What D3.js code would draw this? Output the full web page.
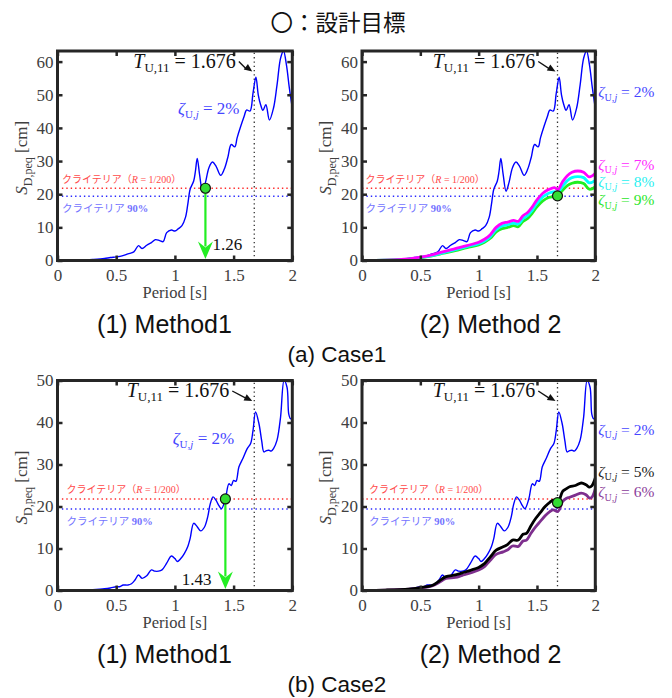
<!DOCTYPE html>
<html lang="ja">
<head>
<meta charset="utf-8">
<title>設計目標</title>
<script src="https://cdnjs.cloudflare.com/ajax/libs/d3/7.8.5/d3.min.js"></script>
<style>
  body { margin: 0; background: #fff; }
  .tick text { font-family: "Liberation Serif", "Times New Roman", serif; font-size: 17px; fill: #404040; }
  .tick line { stroke: #262626; stroke-width: 2.5; }
  .domain { display: none; }
</style>
</head>
<body>
<div id="chart"></div>
<script>
// ---- data ----
var xTicks = [0, 0.5, 1, 1.5, 2];
var yTicksCase1 = [0, 10, 20, 30, 40, 50, 60];
var yTicksCase2 = [0, 10, 20, 30, 40, 50];
var yMaxCase1 = 63.2;
var yMaxCase2 = 50;

var criterionR = 21.8;   // クライテリア (R = 1/200)
var criterion90 = 19.4;  // クライテリア 90%
var tU11 = 1.676;

// case1, damping 2%
var periodC1Blue = [0, 0.1, 0.2, 0.3, 0.4, 0.45, 0.5, 0.55, 0.6, 0.65, 0.69, 0.72, 0.76, 0.8, 0.835, 0.87, 0.9, 0.93, 0.97, 1.0,
  1.03, 1.06, 1.09, 1.11, 1.13, 1.16, 1.175, 1.19, 1.21, 1.235, 1.26, 1.29, 1.32, 1.35, 1.39, 1.42, 1.45, 1.48, 1.51, 1.53,
  1.56, 1.59, 1.61, 1.64, 1.665, 1.69, 1.71, 1.73, 1.75, 1.775, 1.805, 1.84, 1.87, 1.9, 1.925, 1.95, 1.975, 2.0];
var sdC1Blue = [0, 0.02, 0.1, 0.3, 0.6, 0.9, 1.1, 1.4, 2.0, 2.6, 4.5, 3.6, 4.6, 5.4, 6.3, 6.0, 5.7, 8.4, 9.2, 8.9,
  9.6, 10.5, 13.0, 17.0, 21.5, 24.0, 27.0, 30.8, 26.0, 20.9, 23.5, 28.0, 29.7, 28.5, 25.7, 27.5, 31.0, 35.0, 34.3, 37.0,
  40.4, 43.5, 45.4, 45.1, 50.4, 55.3, 50.0, 47.0, 45.3, 47.0, 42.4, 46.0, 53.0, 61.0, 63.2, 59.0, 52.0, 46.0];

// case1, damping 7/8/9%
var periodC1Damped = [0, 0.2, 0.4, 0.5, 0.6, 0.7, 0.8, 0.9, 1.0, 1.05, 1.1, 1.15, 1.2, 1.25, 1.3, 1.34, 1.38, 1.42, 1.46, 1.5,
  1.55, 1.6, 1.65, 1.68, 1.72, 1.76, 1.8, 1.85, 1.9, 1.95, 2.0];
var sdC1h7 = [0, 0.1, 0.5, 1.0, 1.7, 2.7, 3.6, 4.5, 5.5, 6.4, 7.8, 10.0, 11.2, 11.6, 12.1, 11.8, 13.5, 14.5, 16.2, 18.3,
  20.3, 21.4, 22.0, 21.4, 23.8, 25.6, 26.6, 27.0, 26.6, 25.2, 26.3];
var sdC1h8 = [0, 0.1, 0.4, 0.9, 1.5, 2.4, 3.3, 4.2, 5.1, 5.9, 7.2, 9.3, 10.4, 10.8, 11.3, 11.0, 12.6, 13.6, 15.2, 17.3,
  19.2, 20.3, 20.8, 20.6, 22.4, 24.1, 25.0, 25.3, 25.0, 23.4, 24.2];
var sdC1h9 = [0, 0.1, 0.4, 0.8, 1.4, 2.2, 3.0, 3.9, 4.7, 5.5, 6.7, 8.6, 9.6, 10.0, 10.5, 10.2, 11.8, 12.7, 14.3, 16.2,
  18.0, 19.0, 19.3, 19.6, 21.2, 22.6, 23.3, 23.6, 23.2, 21.5, 22.2];

// case2, damping 2%
var periodC2Blue = [0, 0.1, 0.2, 0.3, 0.4, 0.45, 0.5, 0.53, 0.56, 0.6, 0.63, 0.66, 0.69, 0.72, 0.76, 0.8, 0.83, 0.86, 0.89, 0.93,
  0.97, 1.0, 1.02, 1.05, 1.08, 1.11, 1.13, 1.16, 1.19, 1.22, 1.25, 1.28, 1.3, 1.325, 1.35, 1.375, 1.397, 1.43, 1.46, 1.48,
  1.5, 1.52, 1.545, 1.58, 1.616, 1.645, 1.665, 1.687, 1.716, 1.74, 1.758, 1.78, 1.8, 1.82, 1.84, 1.87, 1.9, 1.93, 1.955, 1.97,
  1.985, 2.0];
var sdC2Blue = [0, 0.02, 0.08, 0.2, 0.4, 0.6, 0.9, 0.9, 1.3, 1.3, 1.6, 2.5, 3.7, 2.9, 3.5, 4.9, 4.6, 4.6, 4.9, 6.5,
  8.2, 7.6, 6.9, 7.6, 8.8, 10.5, 12.4, 16.0, 15.2, 14.2, 15.0, 17.6, 20.5, 22.3, 21.5, 20.2, 19.5, 21.8, 25.4, 25.0,
  26.2, 26.0, 29.4, 31.5, 33.8, 35.0, 38.0, 42.5, 39.7, 35.5, 33.0, 33.3, 33.4, 33.2, 33.8, 35.8, 41.3, 50.0, 48.4, 42.0,
  40.9, 41.3];

// case2, damping 5/6%
var periodC2Damped = [0, 0.2, 0.4, 0.5, 0.6, 0.66, 0.72, 0.8, 0.86, 0.93, 1.0, 1.05, 1.1, 1.15, 1.21, 1.25, 1.29, 1.34, 1.38, 1.41,
  1.45, 1.49, 1.53, 1.57, 1.61, 1.64, 1.68, 1.72, 1.75, 1.78, 1.83, 1.88, 1.92, 1.95, 1.97, 2.0];
var sdC2h5 = [0, 0.1, 0.35, 0.7, 1.2, 2.2, 3.3, 3.7, 4.2, 4.8, 5.5, 6.4, 8.0, 9.6, 10.4, 11.0, 12.0, 12.0, 13.4, 13.6,
  15.5, 17.2, 18.6, 20.0, 21.0, 21.5, 21.1, 23.6, 24.2, 24.7, 25.0, 25.6, 25.2, 24.6, 24.9, 26.8];
var sdC2h6 = [0, 0.1, 0.3, 0.6, 1.1, 1.9, 2.9, 3.1, 3.6, 4.2, 4.9, 5.7, 7.2, 8.6, 9.2, 9.7, 10.6, 10.5, 11.8, 12.0,
  13.7, 15.2, 16.5, 17.8, 18.8, 19.2, 18.8, 21.2, 21.9, 22.2, 22.7, 23.2, 22.8, 22.0, 22.2, 24.2];

// design targets (○)
var targetC1M1 = [1.26, 21.8];
var targetC1M2 = [1.676, 19.5];
var targetC2M1 = [1.43, 21.8];
var targetC2M2 = [1.676, 20.9];

// ---- drawing ----
var W = 672, H = 698;
var serif = '"Liberation Serif", "Times New Roman", serif';
var sans = '"Liberation Sans", Arial, sans-serif';
var jp = '"Noto Sans CJK JP", sans-serif';

var svg = d3.select("#chart").append("svg")
  .attr("width", W).attr("height", H)
  .style("background", "#fff");

var line = d3.line().curve(d3.curveCatmullRom.alpha(0.5));

function zeta(sel, x, y, pct, color, size) {
  var t = sel.append("text").attr("x", x).attr("y", y)
    .attr("font-family", serif).attr("font-size", size).attr("fill", color);
  t.append("tspan").attr("font-style", "italic").text("ζ");
  t.append("tspan").attr("font-size", size * 0.65).attr("dy", 3.5).text("U,");
  t.append("tspan").attr("font-size", size * 0.65).attr("font-style", "italic").text("j");
  t.append("tspan").attr("dy", -3.5).text(" = " + pct + "%");
}

function drawPanel(p) {
  var x = d3.scaleLinear().domain([0, 2]).range([p.left, p.left + p.w]);
  var y = d3.scaleLinear().domain([0, p.yMax]).range([p.top + p.h, p.top]);
  var g = svg.append("g");

  svg.append("clipPath").attr("id", "clip" + p.id)
    .append("rect").attr("x", p.left).attr("y", p.top).attr("width", p.w).attr("height", p.h);

  // criteria lines
  g.append("line").attr("x1", x(0)).attr("x2", x(2))
    .attr("y1", y(criterionR)).attr("y2", y(criterionR))
    .attr("stroke", "#ff2a2a").attr("stroke-width", 1.4).attr("stroke-dasharray", "1.4,3");
  g.append("line").attr("x1", x(0)).attr("x2", x(2))
    .attr("y1", y(criterion90)).attr("y2", y(criterion90))
    .attr("stroke", "#2a2aff").attr("stroke-width", 1.4).attr("stroke-dasharray", "1.4,3");

  // T_U,11 line
  g.append("line").attr("x1", x(tU11)).attr("x2", x(tU11))
    .attr("y1", y(0)).attr("y2", y(p.yMax))
    .attr("stroke", "#333").attr("stroke-width", 1.3).attr("stroke-dasharray", "1.3,3");

  // series
  p.series.forEach(function(s) {
    g.append("path")
      .datum(d3.zip(s.period, s.sd))
      .attr("clip-path", "url(#clip" + p.id + ")")
      .attr("fill", "none")
      .attr("stroke", s.color)
      .attr("stroke-width", s.width)
      .attr("stroke-linejoin", "round")
      .attr("d", line.x(function(d) { return x(d[0]); }).y(function(d) { return y(d[1]); }));
  });

  // criteria labels
  var rl = g.append("text").attr("x", p.left + p.critDx).attr("y", y(criterionR) - 5.5)
    .attr("font-size", 10).attr("fill", "#ff4a4a").attr("font-family", jp);
  rl.append("tspan").text("クライテリア（");
  rl.append("tspan").attr("font-family", serif).attr("font-style", "italic").text("R");
  rl.append("tspan").attr("font-family", serif).text(" = 1/200");
  rl.append("tspan").text("）");
  var bl = g.append("text").attr("x", p.left + p.critDx).attr("y", y(criterion90) + 16)
    .attr("font-size", 10.5).attr("fill", "#7373ff").attr("font-family", jp);
  bl.append("tspan").text("クライテリア ");
  bl.append("tspan").attr("font-family", serif).attr("font-weight", "bold").text("90%");

  // axes
  g.append("g").attr("transform", "translate(0," + (p.top + p.h) + ")")
    .call(d3.axisBottom(x).tickValues(xTicks).tickFormat(String).tickSizeInner(-5).tickSizeOuter(0).tickPadding(8));
  g.append("g").attr("transform", "translate(0," + p.top + ")")
    .call(d3.axisTop(x).tickValues(xTicks).tickFormat("").tickSizeInner(-5).tickSizeOuter(0));
  g.append("g").attr("transform", "translate(" + p.left + ",0)")
    .call(d3.axisLeft(y).tickValues(p.yTicks).tickFormat(String).tickSizeInner(-5).tickSizeOuter(0).tickPadding(4));
  g.append("g").attr("transform", "translate(" + (p.left + p.w) + ",0)")
    .call(d3.axisRight(y).tickValues(p.yTicks).tickFormat("").tickSizeInner(-5).tickSizeOuter(0));

  g.append("rect").attr("x", p.left).attr("y", p.top).attr("width", p.w).attr("height", p.h)
    .attr("fill", "none").attr("stroke", "#262626").attr("stroke-width", 3);

  // axis titles
  g.append("text").attr("x", p.left + p.w / 2).attr("y", p.top + p.h + 37.5)
    .attr("text-anchor", "middle").attr("font-family", serif).attr("font-size", 16.5)
    .attr("fill", "#404040").text("Period [s]");
  var yl = g.append("text")
    .attr("transform", "translate(" + (p.left - 31) + "," + (p.top + p.h / 2 + 2) + ") rotate(-90)")
    .attr("text-anchor", "middle").attr("font-family", serif).attr("font-size", 17).attr("fill", "#404040");
  yl.append("tspan").attr("font-style", "italic").text("S");
  yl.append("tspan").attr("font-size", 12).attr("dy", 5).text("D,peq");
  yl.append("tspan").attr("dy", -5).text(" [cm]");

  // T_U,11 annotation
  var tl = g.append("text").attr("x", p.tLabelX).attr("y", p.top + 16.5)
    .attr("font-family", serif).attr("font-size", 20).attr("fill", "#111");
  tl.append("tspan").attr("font-style", "italic").text("T");
  tl.append("tspan").attr("font-size", 13).attr("dy", 4).text("U,11");
  tl.append("tspan").attr("dy", -4).text(" = 1.676");
  var tEnd = p.tLabelX + tl.node().getComputedTextLength();
  var ax0 = tEnd + 3, ay0 = p.top + 10.5, ax1 = x(tU11) - 2, ay1 = p.top + 20.5;
  g.append("line").attr("x1", ax0).attr("y1", ay0).attr("x2", ax1 - 6).attr("y2", ay1 - 2.6)
    .attr("stroke", "#111").attr("stroke-width", 1.4);
  var ang = Math.atan2(ay1 - ay0, ax1 - ax0);
  var hl = 8, hw = 3.5;
  var bx = ax1 - hl * Math.cos(ang), by = ay1 - hl * Math.sin(ang);
  g.append("path")
    .attr("d", "M" + ax1 + "," + ay1 +
      "L" + (bx + hw * Math.sin(ang)) + "," + (by - hw * Math.cos(ang)) +
      "L" + (bx - hw * Math.sin(ang)) + "," + (by + hw * Math.cos(ang)) + "Z")
    .attr("fill", "#111");

  // damping labels
  p.labels.forEach(function(l) { zeta(g, l.x, l.y, l.pct, l.color, p.labelSize); });

  // target arrow (method 1)
  if (p.arrow) {
    var gx = x(p.target[0]), gy = y(p.target[1]), base = y(0);
    g.append("line").attr("x1", gx).attr("x2", gx).attr("y1", gy).attr("y2", base - 14)
      .attr("stroke", "#22ee22").attr("stroke-width", 2.2);
    g.append("path")
      .attr("d", "M" + gx + "," + (base - 1.5) + "L" + (gx - 7.5) + "," + (base - 19) +
        "L" + gx + "," + (base - 13) + "L" + (gx + 7.5) + "," + (base - 19) + "Z")
      .attr("fill", "#22ee22");
    g.append("text").attr("x", gx + p.arrow.dx).attr("y", base + p.arrow.dy)
      .attr("text-anchor", p.arrow.anchor).attr("font-family", serif).attr("font-size", 17)
      .attr("fill", "#111").text(p.target[0].toFixed(2));
  }

  // target circle
  g.append("circle").attr("cx", x(p.target[0])).attr("cy", y(p.target[1])).attr("r", 5)
    .attr("fill", "#33dd33").attr("stroke", "#111").attr("stroke-width", 1.2);
}

var blue = "#0000ff";

drawPanel({
  id: 1, left: 57.5, top: 51, w: 234.8, h: 209.5, yMax: yMaxCase1, yTicks: yTicksCase1,
  critDx: 4.5, tLabelX: 133.3, labelSize: 17,
  series: [{ period: periodC1Blue, sd: sdC1Blue, color: blue, width: 1.4 }],
  labels: [{ x: 178, y: 114, pct: 2, color: "#4646ff" }],
  target: targetC1M1, arrow: { dx: 7, dy: -10.5, anchor: "start" }
});
drawPanel({
  id: 2, left: 362, top: 51, w: 233.3, h: 209.5, yMax: yMaxCase1, yTicks: yTicksCase1,
  critDx: 3.5, tLabelX: 432.7, labelSize: 15.5,
  series: [
    { period: periodC1Blue, sd: sdC1Blue, color: blue, width: 1.4 },
    { period: periodC1Damped, sd: sdC1h9, color: "#22ee22", width: 2.8 },
    { period: periodC1Damped, sd: sdC1h8, color: "#00ffff", width: 2.8 },
    { period: periodC1Damped, sd: sdC1h7, color: "#ff00ff", width: 2.8 }
  ],
  labels: [
    { x: 598.3, y: 97, pct: 2, color: "#4646ff" },
    { x: 598.3, y: 169.5, pct: 7, color: "#ff2aff" },
    { x: 598.3, y: 186.5, pct: 8, color: "#2af0f0" },
    { x: 598.3, y: 205, pct: 9, color: "#2ae62a" }
  ],
  target: targetC1M2, arrow: null
});
drawPanel({
  id: 3, left: 57.5, top: 380.5, w: 234.8, h: 210, yMax: yMaxCase2, yTicks: yTicksCase2,
  critDx: 9, tLabelX: 126.7, labelSize: 17,
  series: [{ period: periodC2Blue, sd: sdC2Blue, color: blue, width: 1.4 }],
  labels: [{ x: 172.7, y: 444, pct: 2, color: "#4646ff" }],
  target: targetC2M1, arrow: { dx: -14, dy: -5.5, anchor: "end" }
});
drawPanel({
  id: 4, left: 362, top: 380.5, w: 233.3, h: 210, yMax: yMaxCase2, yTicks: yTicksCase2,
  critDx: 7, tLabelX: 432.7, labelSize: 15.5,
  series: [
    { period: periodC2Blue, sd: sdC2Blue, color: blue, width: 1.4 },
    { period: periodC2Damped, sd: sdC2h6, color: "#7e2f8e", width: 2.8 },
    { period: periodC2Damped, sd: sdC2h5, color: "#000000", width: 2.8 }
  ],
  labels: [
    { x: 598.3, y: 434.5, pct: 2, color: "#4646ff" },
    { x: 598.3, y: 476.5, pct: 5, color: "#1a1a1a" },
    { x: 598.3, y: 497, pct: 6, color: "#8a3c9a" }
  ],
  target: targetC2M2, arrow: null
});

// captions
svg.append("text").attr("x", 338).attr("y", 31).attr("text-anchor", "middle")
  .attr("font-family", jp).attr("font-size", 22.5).attr("fill", "#111").text("〇：設計目標");

var captions = [
  { x: 164.5, y: 333, t: "(1) Method1", s: 25 },
  { x: 490.5, y: 333, t: "(2) Method 2", s: 25 },
  { x: 337, y: 362, t: "(a) Case1", s: 22.5 },
  { x: 164.5, y: 663, t: "(1) Method1", s: 25 },
  { x: 490.5, y: 663, t: "(2) Method 2", s: 25 },
  { x: 337, y: 692, t: "(b) Case2", s: 22.5 }
];
svg.selectAll("text.caption").data(captions).enter().append("text")
  .attr("class", "caption")
  .attr("x", function(d) { return d.x; }).attr("y", function(d) { return d.y; })
  .attr("text-anchor", "middle").attr("font-family", sans)
  .attr("font-size", function(d) { return d.s; }).attr("fill", "#111")
  .text(function(d) { return d.t; });
</script>
</body>
</html>
